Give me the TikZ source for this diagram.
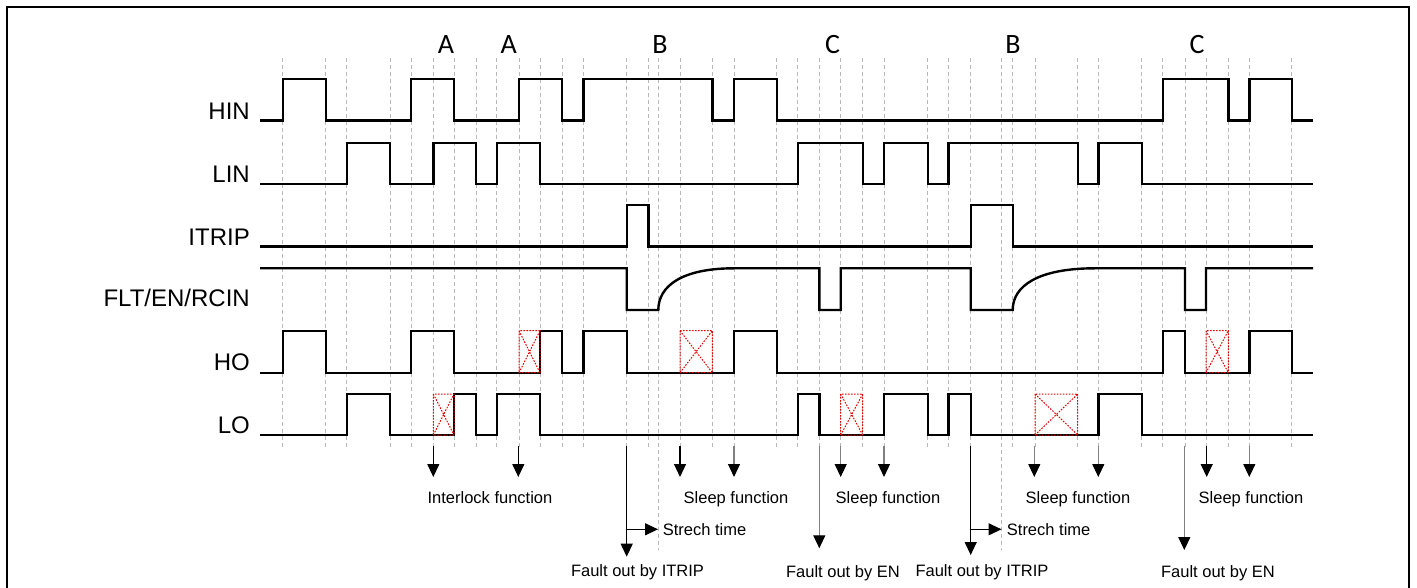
\documentclass[tikz,border=0pt]{standalone}
\usepackage{fontspec}
\setmainfont{Liberation Sans}
\newfontfamily\abcfont{Carlito}
\usetikzlibrary{arrows.meta}
\begin{document}
\begin{tikzpicture}[x=1pt,y=-1pt,
  wave/.style={line width=2.4pt, line join=miter, black},
  gridline/.style={black!28, line width=0.9pt, dash pattern=on 4pt off 3pt},
  xbox/.style={red!90!black, line width=1pt, dash pattern=on 1.6pt off 1.4pt},
  siglabel/.style={anchor=base east, inner sep=0pt, font=\fontsize{24}{24}\selectfont},
  phase/.style={anchor=base, inner sep=0pt, font=\abcfont\fontsize{28}{28}\selectfont},
  note/.style={anchor=base, inner sep=0pt, font=\fontsize{16.5}{16.5}\selectfont},
  blk/.style={draw=black},
  gry/.style={draw=black!50},
  farrow/.style={line width=1.2pt, -{Triangle[width=12pt,length=13pt,color=black]}},
]
\useasboundingbox (0,0) rectangle (1417,588);
\fill[white] (0,0) rectangle (1417,588);
% frame
\draw[line width=2pt] (7,588) -- (7,7) -- (1409,7) -- (1409,588);

% dashed edge lines
\foreach \x in {282.7,325.7,346.7,390,411,433.3,454,476,496.7,519,540,562,583.3,626.7,648.3,680,712.3,734,776.7,797.7,819.3,840.7,862.7,884,927.7,948.3,970.7,1012.7,1035,1077.7,1098.3,1141.7,1162.7,1185,1206,1228.3,1249.3,1291.7}
  \draw[gridline] (\x,58) -- (\x,447);
\draw[gridline] (658.3,58) -- (658.3,550);
\draw[gridline] (1001.7,58) -- (1001.7,550);

% phase letters
\node[phase] (pa1) at (446,54) {A};
\node[phase] (pa2) at (508.7,54) {A};
\node[phase] (pb1) at (660,54) {B};
\node[phase] (pc1) at (832.5,54) {C};
\node[phase] (pb2) at (1013,54) {B};
\node[phase] (pc2) at (1197,54) {C};

% signal labels
\node[siglabel] (lhin) at (250,119.3) {HIN};
\node[siglabel] (llin) at (250,182.7) {LIN};
\node[siglabel] (litrip) at (250,245.5) {ITRIP};
\node[siglabel] (lflt) at (250,306.7) {FLT/EN/RCIN};
\node[siglabel] (lho) at (250,370.5) {HO};
\node[siglabel] (llo) at (250,433) {LO};

% HIN
\draw[wave] (260,120.7) -|(282.7,79.3) -|(325.7,120.7) -|(411,79.3) -|(454,120.7) -|(519,79.3) -|(562,120.7) -|(583.3,79.3) -|(712.3,120.7) -|(734,79.3) -|(776.7,120.7) -|(1162.7,79.3) -|(1228.3,120.7) -|(1249.3,79.3) -|(1291.7,120.7) -- (1313,120.7);
% LIN
\draw[wave] (260,184.3) -|(346.7,143.3) -|(390,184.3) -|(433.3,143.3) -|(476,184.3) -|(496.7,143.3) -|(540,184.3) -|(797.7,143.3) -|(862.7,184.3) -|(884,143.3) -|(927.7,184.3) -|(948.3,143.3) -|(1077.7,184.3) -|(1098.3,143.3) -|(1141.7,184.3) -- (1313,184.3);
% ITRIP
\draw[wave] (260,246.7) -|(626.7,205) -|(648.3,246.7) -|(970.7,205) -|(1012.7,246.7) -- (1313,246.7);
% FLT/EN/RCIN
\draw[wave] (260,268.3) -|(626.7,310) -- (658.3,310) .. controls (658.3,286) and (682,268.3) .. (734,268.3) -|(819.3,310) -|(840.7,268.3) -|(970.7,310) -- (1012.7,310) .. controls (1012.7,286) and (1038,268.3) .. (1095,268.3) -|(1185,310) -|(1206,268.3) -- (1313,268.3);
% HO
\draw[wave] (260,372.7) -|(282.7,330.7) -|(325.7,372.7) -|(411,330.7) -|(454,372.7) -|(540,330.7) -|(562,372.7) -|(583.3,330.7) -|(626.7,372.7) -|(734,330.7) -|(776.7,372.7) -|(1162.7,330.7) -|(1185,372.7) -|(1249.3,330.7) -|(1291.7,372.7) -- (1313,372.7);
% LO
\draw[wave] (260,435) -|(346.7,394) -|(390,435) -|(454,394) -|(476,435) -|(496.7,394) -|(540,435) -|(797.7,394) -|(819.3,435) -|(884,394) -|(927.7,435) -|(948.3,394) -|(970.7,435) -|(1098.3,394) -|(1141.7,435) -- (1313,435);

% blocked pulses (red crossed boxes)
\foreach \a/\b in {519/540,680/712.3,1206/1228.3}
  \draw[xbox] (\a,330.7) rectangle (\b,372.7) (\a,330.7) -- (\b,372.7) (\a,372.7) -- (\b,330.7);
\foreach \a/\b in {433.3/454,840.7/862.7,1035/1077.7}
  \draw[xbox] (\a,394) rectangle (\b,435) (\a,394) -- (\b,435) (\a,435) -- (\b,394);

% short arrows
\foreach \n/\x/\c in {i1/433.3/blk,i2/518.3/blk,s1/680/blk,s2/734/gry,s3/840.7/gry,s4/884/gry,s5/1034.3/gry,s6/1098.3/gry,s7/1206.7/blk,s8/1249.3/gry}{
  \coordinate (\n s) at (\x,446);
  \coordinate (\n e) at (\x,477);
  \draw[farrow,\c] (\n s) -- (\n e);
}
% long arrows (fault out)
\foreach \n/\x/\y/\c in {f1/626.7/556.7/blk,f2/819.3/548.3/gry,f3/970.7/555/blk,f4/1184.3/550/gry}{
  \coordinate (\n s) at (\x,446);
  \coordinate (\n e) at (\x,\y);
  \draw[farrow,\c] (\n s) -- (\n e);
}
% stretch time arrows
\coordinate (st1s) at (626.7,529.3);
\coordinate (st1e) at (658,529.3);
\coordinate (st2s) at (970.7,529.3);
\coordinate (st2e) at (1001.5,529.3);
\draw[farrow,blk] (st1s) -- (st1e);
\draw[farrow,blk] (st2s) -- (st2e);

% notes
\node[note] (ninter) at (490,503.3) {Interlock function};
\node[note] (nsl1) at (736,503.3) {Sleep function};
\node[note] (nsl2) at (888,503.3) {Sleep function};
\node[note] (nsl3) at (1078,503.3) {Sleep function};
\node[note] (nsl4) at (1251,503.3) {Sleep function};
\node[note,anchor=base west] (nst1) at (662.7,535.7) {Strech time};
\node[note,anchor=base west] (nst2) at (1006.7,535.7) {Strech time};
\node[note] (nfi1) at (637.5,576.7) {Fault out by ITRIP};
\node[note] (nfe1) at (843,577) {Fault out by EN};
\node[note] (nfi2) at (982,576.7) {Fault out by ITRIP};
\node[note] (nfe2) at (1218,577) {Fault out by EN};
\end{tikzpicture}
\end{document}
